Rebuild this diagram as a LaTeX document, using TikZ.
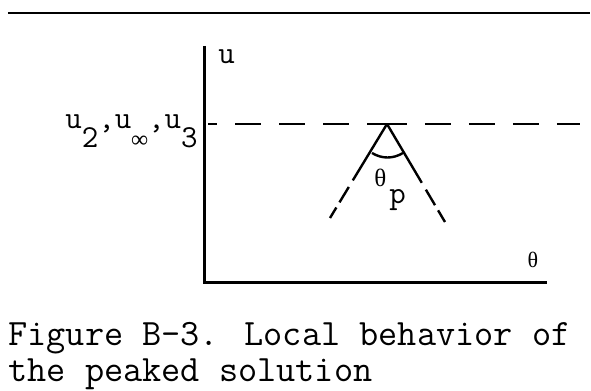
\documentclass[tikz,border=0pt]{standalone}
\usepackage{fontspec}
\newfontfamily\grk{Liberation Serif}
\usetikzlibrary{calc}

\begin{document}
\begin{tikzpicture}[x=0.5pt,y=-0.5pt,
  axis/.style={line width=1.5pt},
  dashline/.style={line width=1.2pt,dash pattern=on 13pt off 9pt,dash phase=3pt},
  slopeline/.style={line width=1.2pt},
  lbl/.style={inner sep=0pt,font=\ttfamily\fontsize{16pt}{18pt}\selectfont},
  caption/.style={inner sep=0pt,anchor=base west,font=\ttfamily\fontsize{18.6pt}{22pt}\selectfont}]

\useasboundingbox (0,0) rectangle (591,391);

% Top rule
\coordinate (r1) at (8,13);
\coordinate (r2) at (590,13);
\draw[line width=1pt] (r1) -- (r2);

% Axes
\coordinate (O) at (205,283);
\coordinate (ytop) at (205,46);
\coordinate (xend) at (547,283);
\draw[axis] (ytop) -- (O) -- (xend);

% Peak and level line
\coordinate (peak) at (387,124);
\coordinate (hl) at (208,124);
\coordinate (hr) at (580,124);
\draw[dashline] (peak) -- (hl);
\draw[dashline] (peak) -- (hr);

% Sides of the peak
\coordinate (lend) at (330,218);
\coordinate (rend) at (445,222);
\draw[slopeline] (peak) -- ($(peak)!0.6!(lend)$);
\draw[slopeline] (peak) -- ($(peak)!0.6!(rend)$);
\draw[slopeline,dash pattern=on 9pt off 3pt] ($(peak)!0.67!(lend)$) -- (lend);
\draw[slopeline,dash pattern=on 9pt off 3pt] ($(peak)!0.67!(rend)$) -- (rend);

% Angle mark
\coordinate (a1) at (372,153);
\coordinate (a2) at (403,153);
\draw[line width=1.2pt] (a1) .. controls (382,159) and (393,159) .. (a2);

% Labels
\node[lbl,anchor=base] (ulab) at (226.5,63) {u};
\node[lbl,anchor=base,font=\grk\fontsize{11pt}{13pt}\selectfont] (thlab) at (533,268) {θ};
\node[lbl,anchor=base west] (thp) at (374,186)
  {{\grk\fontsize{12.5pt}{14pt}\selectfont θ}\hspace{1.5pt}\raisebox{-9pt}{p}};
\node[lbl,anchor=base east] (ulev) at (198,128)
  {u\raisebox{-9.5pt}{2},u\raisebox{-9.5pt}{\makebox[8.4pt]{\grk\fontsize{12pt}{14pt}\selectfont ∞}},u\raisebox{-9.5pt}{3}};

% Caption
\node[caption] (cap1) at (8,346) {Figure B-3. Local behavior of};
\node[caption] (cap2) at (8,381) {the peaked solution};

\end{tikzpicture}
\end{document}
